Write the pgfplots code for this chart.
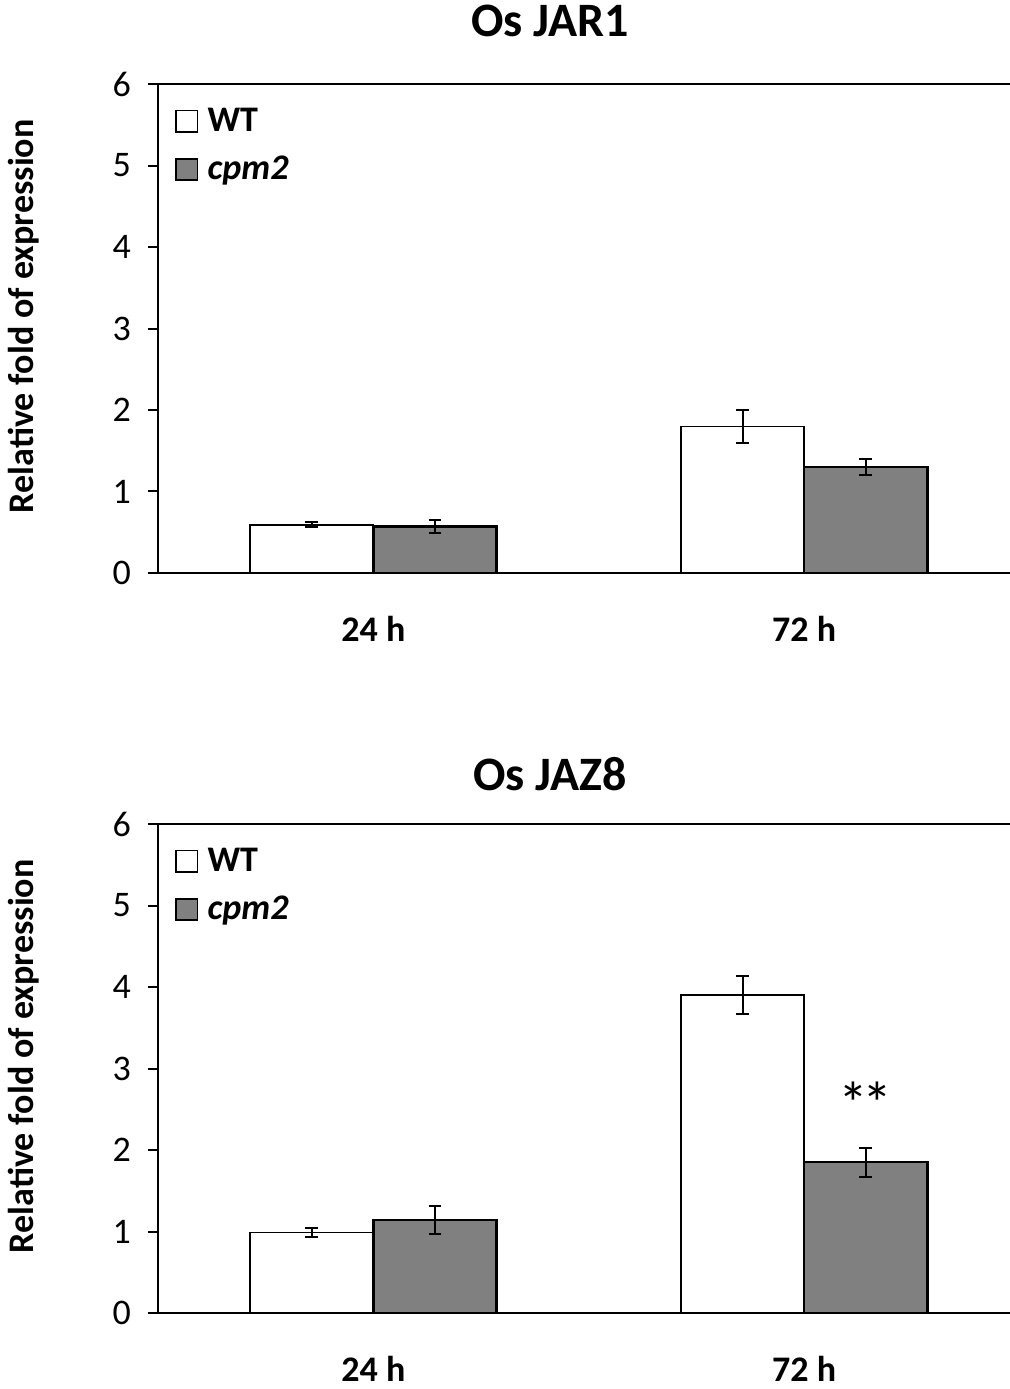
\documentclass[border=0pt]{standalone}
\usepackage{fontspec}
\setmainfont{Carlito}
\usepackage{pgfplots}
\pgfplotsset{compat=1.18}
\definecolor{barGray}{RGB}{128,128,128}

\pgfplotstableread{
x  wt   wterr cpm  cpmerr
0  0.59 0.03  0.57 0.08
1  1.80 0.20  1.30 0.10
}\jarone
\pgfplotstableread{
x  wt   wterr cpm  cpmerr
0  0.99 0.055 1.14 0.17
1  3.90 0.23  1.85 0.18
}\jazeight

\pgfplotsset{
  panel/.style={
    scale only axis, width=426pt, height=244.5pt,
    anchor=south west,
    xmin=-0.5, xmax=1.478, ymin=0, ymax=6,
    ytick={0,1,...,6},
    axis x line*=bottom, axis y line*=left,
    axis line style={line width=1.3pt},
    tick align=outside,
    major tick length=5pt,
    tick style={line width=1pt, black},
    xtick={0,1}, xticklabels={\textbf{24 h},\textbf{72 h}},
    xtick style={draw=none},
    extra x ticks={-0.5,0.5}, extra x tick labels={},
    extra x tick style={tick style={draw=black, line width=1pt}},
    xticklabel style={font=\fontsize{18}{20}\selectfont, yshift=-13pt},
    yticklabel style={font=\fontsize{18}{20}\selectfont, xshift=-5pt},
    /pgf/number format/assume math mode=true,
    ylabel={\textbf{Relative fold of expression}},
    ylabel style={at={(axis description cs:-0.158,0.525)}, anchor=center,
      font=\fontsize{18}{20}\selectfont},
    ybar, bar width=0.286,
    legend style={at={(axis description cs:0.02,0.96)}, anchor=north west,
      draw=none, fill=none, font=\fontsize{18}{20}\selectfont,
      row sep=7pt, inner sep=0pt, cells={anchor=west}},
    legend cell align=left,
    title style={font=\bfseries\fontsize{24}{26}\selectfont},
    after end axis/.code={\draw[line width=1.3pt] (rel axis cs:0,1) -- (rel axis cs:1,1);},
  },
  wtbar/.style={fill=white, draw=black, line width=0.8pt, bar shift=-0.143,
    legend image code/.code={\draw[fill=white, draw=black, line width=0.9pt] (0pt,-5.3pt) rectangle (10.6pt,5.3pt); \path (13pt,0pt);},
    error bars/.cd, y dir=both, y explicit,
    error bar style={line width=1pt, black},
    error mark options={rotate=90, mark size=3.2pt, line width=1pt, black}},
  cpmbar/.style={fill=barGray, draw=black, line width=1.2pt, bar shift=0.143,
    legend image code/.code={\draw[fill=barGray, draw=black, line width=0.9pt] (0pt,-5.3pt) rectangle (10.6pt,5.3pt); \path (13pt,0pt);},
    error bars/.cd, y dir=both, y explicit,
    error bar style={line width=1pt, black},
    error mark options={rotate=90, mark size=3.2pt, line width=1pt, black}},
}

\begin{document}
\begin{tikzpicture}
\useasboundingbox (0,0) rectangle (505pt,694.5pt);

% top panel: Os JAR1
\begin{axis}[panel, at={(79pt,408pt)},
  title={Os JAR1}, title style={at={(axis description cs:0.46,1)}, anchor=south, yshift=14pt}]
\addplot[wtbar] table[x=x, y=wt, y error=wterr] {\jarone};
\addlegendentry{\textbf{WT}}
\addplot[cpmbar] table[x=x, y=cpm, y error=cpmerr] {\jarone};
\addlegendentry{\textbf{\itshape cpm2}}
\end{axis}

% bottom panel: Os JAZ8
\begin{axis}[panel, at={(79pt,38pt)},
  title={Os JAZ8}, title style={at={(axis description cs:0.46,1)}, anchor=south, yshift=7pt}]
\addplot[wtbar] table[x=x, y=wt, y error=wterr] {\jazeight};
\addlegendentry{\textbf{WT}}
\addplot[cpmbar] table[x=x, y=cpm, y error=cpmerr] {\jazeight};
\addlegendentry{\textbf{\itshape cpm2}}
\node[font=\fontsize{30}{30}\selectfont] at (axis cs:1.143,2.58) {*\kern-3pt*};
\end{axis}
\end{tikzpicture}
\end{document}
